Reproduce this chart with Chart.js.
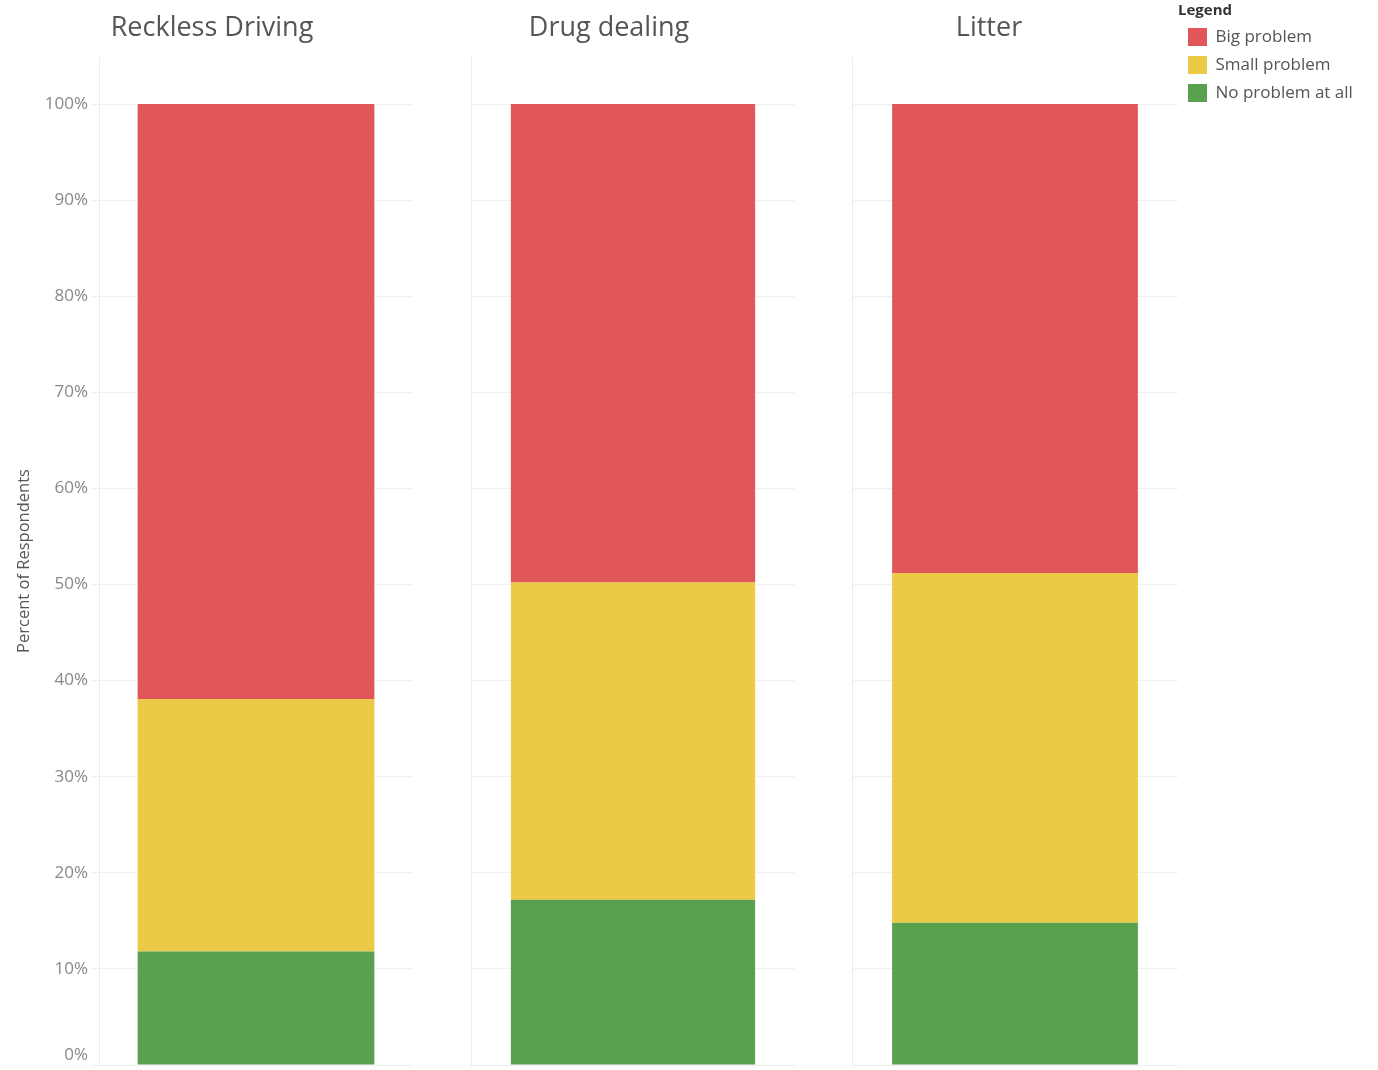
<!DOCTYPE html>
<html>
<head>
<meta charset="utf-8">
<title>Percent of Respondents</title>
<script src="https://cdn.jsdelivr.net/npm/chart.js"></script>
<style>
  html, body { margin: 0; padding: 0; background: #fff; overflow: hidden; }
  .panel { position: absolute; top: 0; height: 1090px; }
</style>
</head>
<body>
<div class="panel" style="left:0;width:420px"><canvas id="chart1"></canvas></div>
<div class="panel" style="left:470px;width:326px"><canvas id="chart2"></canvas></div>
<div class="panel" style="left:851px;width:527px"><canvas id="chart3"></canvas></div>
<script>
const categories = ['Reckless Driving', 'Drug dealing', 'Litter'];
const bigProblem = [61.9, 49.8, 48.8];
const smallProblem = [26.3, 33.0, 36.4];
const noProblem = [11.8, 17.2, 14.8];
const yTicks = [0, 10, 20, 30, 40, 50, 60, 70, 80, 90, 100];

// stacking order bottom -> top, legend is reversed
const seriesNames = ['No problem at all', 'Small problem', 'Big problem'];
const seriesData = [noProblem, smallProblem, bigProblem];
const seriesColors = ['#59A14F', '#EDC948', '#E15759'];

const titleOffsets = [-44, -24, -26]; // headers sit a bit left of the bar centre
const paddings = [
  {left: 0, right: 7, top: 0, bottom: 25},
  {left: 1, right: 1, top: 0, bottom: 25},
  {left: 1, right: 20, top: 0, bottom: 25},
];

Chart.defaults.font.family = '"Open Sans", sans-serif';

function makePanel(id, i) {
  const first = i === 0;
  const last = i === categories.length - 1;
  return new Chart(document.getElementById(id), {
    type: 'bar',
    data: {
      labels: [categories[i]],
      datasets: seriesNames.map((name, k) => ({
        label: name,
        data: [seriesData[k][i]],
        backgroundColor: seriesColors[k],
        borderWidth: 0,
        barPercentage: 0.754,
        categoryPercentage: 1,
      })),
    },
    options: {
      maintainAspectRatio: false,
      animation: false,
      layout: {padding: paddings[i]},
      scales: {
        x: {
          position: 'top',
          stacked: true,
          grid: {display: false, drawTicks: false},
          border: {display: false},
          ticks: {color: '#555', font: {size: 27}, padding: 12, labelOffset: titleOffsets[i]},
          afterFit: s => { s.height = 57; },
        },
        y: {
          stacked: true,
          min: 0,
          max: 104.9,
          afterBuildTicks: s => { s.ticks = yTicks.map(v => ({value: v})); },
          afterFit: s => { s.width = first ? 99 : 0; },
          border: {display: true, color: '#ebebeb'},
          grid: {color: '#f0f0f0', drawTicks: first, tickLength: 7},
          ticks: {
            display: first,
            color: '#888',
            font: {size: 17},
            padding: 4,
            // the 0% label is lifted like in the original
            callback: v => v === 0 ? ['0%', ''] : v + '%',
          },
          title: {
            display: first,
            text: 'Percent of Respondents',
            color: '#555',
            font: {size: 16.5},
            padding: {top: 14, bottom: 0},
          },
        },
      },
      plugins: {
        tooltip: {enabled: false},
        legend: {
          display: last,
          position: 'right',
          align: 'start',
          reverse: true,
          maxWidth: 180,
          title: {
            display: true,
            text: 'Legend',
            position: 'start',
            color: '#333',
            font: {size: 15, weight: 'bold', lineHeight: 1},
            padding: {top: 3, bottom: 0},
          },
          labels: {boxWidth: 19, boxHeight: 18, padding: 10, color: '#555', font: {size: 17}},
        },
      },
    },
  });
}

makePanel('chart1', 0);
makePanel('chart2', 1);
makePanel('chart3', 2);
</script>
</body>
</html>
